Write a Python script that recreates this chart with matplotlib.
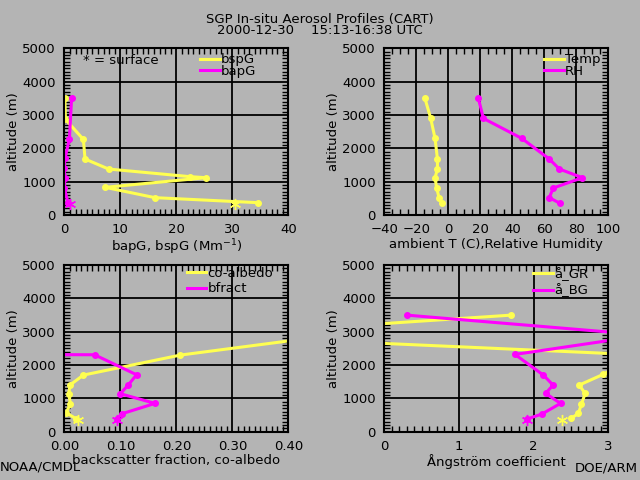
import matplotlib
matplotlib.use('Agg')
import matplotlib.pyplot as plt
from matplotlib.ticker import MultipleLocator, FormatStrFormatter

BG = '#b4b4b4'
YEL = '#ffff50'
MAG = '#ff00ff'

# panel 1 - bspG / bapG (Mm-1)
alt_bsp = [3500, 2870, 2270, 1680, 1380, 1150, 1120, 830, 520, 370]
bsp = [0.1, 0.2, 3.4, 3.7, 7.9, 22.5, 25.3, 7.3, 16.2, 34.6]
alt_bap = [3500, 2270, 1700, 1400, 1100, 800, 350]
bap = [1.3, 0.9, 0.1, 0.0, 0.1, 0.0, 0.7]
surf_bsp, surf_bap, surf_alt1 = 30.5, 1.0, 330

# panel 2 - temperature / RH
alt_met = [3500, 2900, 2300, 1680, 1380, 1120, 810, 520, 350]
temp = [-14.6, -11.0, -8.3, -6.8, -6.8, -8.3, -7.3, -5.8, -4.1]
rh = [18.8, 21.9, 45.9, 63.1, 69.4, 83.8, 65.6, 63.1, 69.8]

# panel 3 - co-albedo / backscatter fraction
alt_coalb = [2900, 2300, 1700, 1400, 1130, 830, 570, 390]
coalb = [0.48, 0.207, 0.034, 0.010, 0.008, 0.011, 0.003, 0.021]
alt_bfr = [2330, 2310, 1710, 1400, 1140, 850, 540, 390]
bfr = [-0.3, 0.054, 0.129, 0.114, 0.100, 0.162, 0.103, 0.094]
surf_coalb, surf_bfr, surf_alt3 = 0.024, 0.094, 360

# panel 4 - angstrom exponents
alt_gr = [3500, 2890, 2310, 1720, 1400, 1150, 830, 550, 400]
ang_gr = [1.70, -2.4, 3.4, 2.93, 2.61, 2.69, 2.64, 2.60, 2.50]
alt_bg = [3500, 2900, 2320, 1700, 1400, 1150, 850, 530, 380]
ang_bg = [0.30, 3.5, 1.75, 2.13, 2.26, 2.16, 2.36, 2.11, 1.91]
surf_gr, surf_bg, surf_alt4 = 2.38, 1.91, 350

plt.rcParams['font.family'] = 'DejaVu Sans'
plt.rcParams['font.size'] = 9.5

fig = plt.figure(figsize=(6.4, 4.8), dpi=100, facecolor=BG)

W, H = 0.35, 0.347
pos = {
    'tl': [0.1005, 0.5521, W, H],
    'tr': [0.6005, 0.5521, W, H],
    'bl': [0.1005, 0.1006, W, H],
    'br': [0.6005, 0.1006, W, H],
}


def setup(ax, xlim, xmaj, xmin, xlabel, fmt=None):
    ax.set_facecolor(BG)
    ax.set_xlim(*xlim)
    ax.set_ylim(0, 5000)
    ax.xaxis.set_major_locator(MultipleLocator(xmaj))
    ax.xaxis.set_minor_locator(MultipleLocator(xmin))
    ax.yaxis.set_major_locator(MultipleLocator(1000))
    ax.yaxis.set_minor_locator(MultipleLocator(100))
    if fmt:
        ax.xaxis.set_major_formatter(fmt)
    ax.tick_params(which='both', direction='in', top=True, right=True, colors='black')
    ax.tick_params(which='major', length=1, pad=6, labelsize=9.5)
    ax.tick_params(which='minor', length=4, width=1)
    for s in ax.spines.values():
        s.set_linewidth(1.5)
    ax.set_axisbelow(True)
    ax.grid(True, which='major', color='black', lw=1.3)
    ax.set_xlabel(xlabel, fontsize=9.5, labelpad=1)
    ax.set_ylabel('altitude (m)', fontsize=9.5, labelpad=2)


def prof(ax, x, y, c, label=None):
    ax.plot(x, y, color=c, lw=2.2, marker='o', ms=4, label=label)


def surf(ax, x, y, c):
    ax.plot([x], [y], color=c, marker=(6, 2, 0), ms=8, mew=1, ls='none')


def leg(ax, x0, y0, spacing):
    lg = ax.legend(loc='upper left', bbox_to_anchor=(x0, y0), frameon=False,
                   handlelength=1.5, handletextpad=0.1, labelspacing=spacing,
                   borderpad=0, borderaxespad=0, fontsize=9.5)
    for h in lg.legend_handles:
        h.set_marker('')


ax1 = fig.add_axes(pos['tl'])
setup(ax1, (0, 40), 10, 1, 'bapG, bspG (Mm$^{-1}$)')
prof(ax1, bsp, alt_bsp, YEL, 'bspG')
prof(ax1, bap, alt_bap, MAG, 'bapG')
surf(ax1, surf_bsp, surf_alt1, YEL)
surf(ax1, surf_bap, surf_alt1, MAG)
leg(ax1, 0.606, 0.97, -0.1)
ax1.text(0.083, 0.93, '* = surface', transform=ax1.transAxes, va='center', fontsize=9.5)

ax2 = fig.add_axes(pos['tr'])
setup(ax2, (-40, 100), 20, 5, 'ambient T (C),Relative Humidity')
prof(ax2, temp, alt_met, YEL, 'Temp.')
prof(ax2, rh, alt_met, MAG, 'RH')
leg(ax2, 0.713, 0.97, -0.1)

ax3 = fig.add_axes(pos['bl'])
setup(ax3, (0, 0.4), 0.1, 0.01, 'backscatter fraction, co-albedo',
      fmt=FormatStrFormatter('%.2f'))
prof(ax3, coalb, alt_coalb, YEL, 'co-albedo')
prof(ax3, bfr, alt_bfr, MAG, 'bfract')
surf(ax3, surf_coalb, surf_alt3, YEL)
surf(ax3, surf_bfr, surf_alt3, MAG)
leg(ax3, 0.546, 0.99, 0.2)

ax4 = fig.add_axes(pos['br'])
setup(ax4, (0, 3), 1, 0.1, 'Ångström coefficient')
prof(ax4, ang_gr, alt_gr, YEL, 'å_GR')
prof(ax4, ang_bg, alt_bg, MAG, 'å_BG')
surf(ax4, surf_gr, surf_alt4, YEL)
surf(ax4, surf_bg, surf_alt4, MAG)
leg(ax4, 0.665, 0.99, 0.2)

fig.text(0.5, 1 - 19 / 480, 'SGP In-situ Aerosol Profiles (CART)', ha='center', va='center', fontsize=9.5)
fig.text(0.5, 1 - 31 / 480, '2000-12-30    15:13-16:38 UTC', ha='center', va='center', fontsize=9.5)
fig.text(0.0, 1 - 467 / 480, 'NOAA/CMDL', ha='left', va='center', fontsize=9.5)
fig.text(0.997, 1 - 468 / 480, 'DOE/ARM', ha='right', va='center', fontsize=9.5)

fig.savefig('out.png', dpi=100, facecolor=BG)
